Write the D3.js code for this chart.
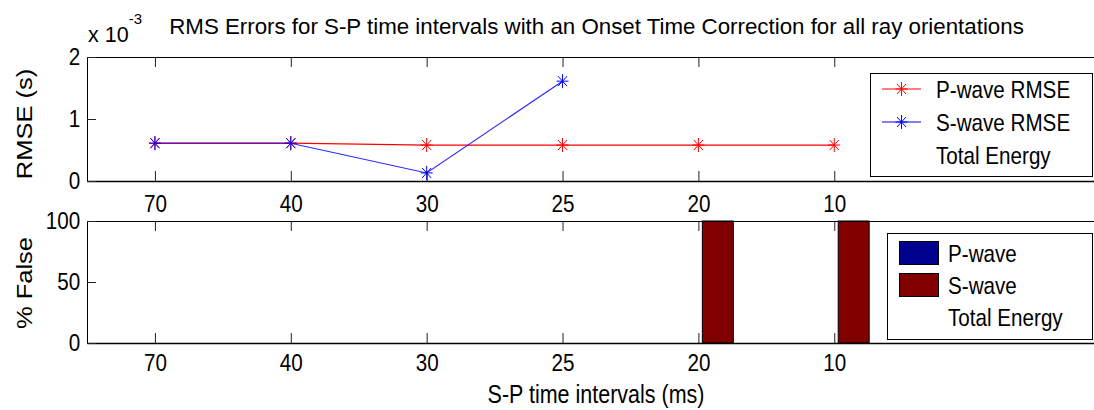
<!DOCTYPE html>
<html>
<head>
<meta charset="utf-8">
<script src="https://cdn.jsdelivr.net/npm/d3@7"></script>
<style>
  html, body { margin: 0; padding: 0; background: #fff; }
  svg { display: block; }
</style>
</head>
<body>
<div id="chart"></div>
<script>
// S-P time interval categories (ms)
const categories = ["70", "40", "30", "25", "20", "10"];
// RMS errors in seconds (missing S-wave values are not plotted)
const pWaveRmse = [6.1e-4, 6.1e-4, 5.8e-4, 5.8e-4, 5.8e-4, 5.8e-4];
const sWaveRmse = [6.1e-4, 6.1e-4, 1.3e-4, 1.61e-3, null, null];
// Percentage of false picks
const pWaveFalse = [0, 0, 0, 0, 0, 0];
const sWaveFalse = [0, 0, 0, 0, 100, 100];
// Axis ticks
const rmseTicks = [0, 1e-3, 2e-3];
const falseTicks = [0, 50, 100];
const legendTop = ["P-wave RMSE", "S-wave RMSE", "Total Energy"];
const legendBottom = ["P-wave", "S-wave", "Total Energy"];

const W = 1094, H = 410;
const FONT = "'Liberation Sans', Arial, Helvetica, sans-serif";
const FS = 24;      // base font size
const SX = 0.86;    // horizontal condensing of glyphs

const svg = d3.select("#chart").append("svg")
  .attr("width", W).attr("height", H)
  .style("font-family", FONT);

const idx = categories.map((_, i) => i + 1);
const x = d3.scaleLinear().domain([0.5, 8]).range([87, 1106]);
const yTop = d3.scaleLinear().domain([0, 2e-3]).range([181, 57]);
const yBot = d3.scaleLinear().domain([0, 100]).range([343, 221]);

function styleAxis(g) {
  g.selectAll("path.domain").attr("stroke", "#000").attr("stroke-width", 1);
  g.selectAll(".tick line").attr("stroke", "#222");
  g.selectAll(".tick text")
    .attr("fill", "#000")
    .style("font-family", FONT)
    .style("font-size", FS + "px")
    .attr("transform", `scale(${SX},1)`);
}

function text(x0, y0, str, anchor, size, rot, sx) {
  const s = sx == null ? SX : sx;
  const g = svg.append("g")
    .attr("transform", rot
      ? `translate(${x0},${y0}) rotate(-90) scale(1,${s})`
      : `translate(${x0},${y0}) scale(${s},1)`);
  return g.append("text")
    .attr("text-anchor", anchor)
    .style("font-size", (size || FS) + "px")
    .attr("fill", "#000")
    .text(str);
}

function asterisk(g, cx, cy, color) {
  const p = d3.path();
  p.moveTo(cx, cy - 7); p.lineTo(cx, cy + 7);
  p.moveTo(cx - 6, cy); p.lineTo(cx + 6, cy);
  p.moveTo(cx - 4.5, cy - 5); p.lineTo(cx + 4.5, cy + 5);
  p.moveTo(cx - 4.5, cy + 5); p.lineTo(cx + 4.5, cy - 5);
  g.append("path").attr("d", p.toString())
    .attr("stroke", color).attr("stroke-width", 1).attr("fill", "none");
}

function panelAxes(yScale, ticks, fmt, labelPad) {
  const [y0, y1] = yScale.range();
  const bottom = svg.append("g").attr("transform", `translate(0,${y0})`)
    .call(d3.axisBottom(x).tickValues(idx).tickFormat(d => categories[d - 1])
      .tickSizeInner(-10).tickSizeOuter(0).tickPadding(labelPad));
  styleAxis(bottom);
  bottom.select("path.domain").attr("stroke-width", 1.4);
  const top = svg.append("g").attr("transform", `translate(0,${y1})`)
    .call(d3.axisTop(x).tickValues(idx).tickFormat("")
      .tickSizeInner(-10).tickSizeOuter(0));
  styleAxis(top);
  const left = svg.append("g").attr("transform", `translate(${x.range()[0]},0)`)
    .call(d3.axisLeft(yScale).tickValues(ticks).tickFormat(fmt)
      .tickSizeInner(-9).tickSizeOuter(0).tickPadding(8));
  styleAxis(left);
  svg.append("line").attr("x1", x.range()[1] + 0.5).attr("x2", x.range()[1] + 0.5)
    .attr("y1", y1).attr("y2", y0).attr("stroke", "#000");
}

// ---------- upper panel: RMSE ----------
const lineGen = d3.line()
  .defined(d => d.v != null)
  .x(d => x(d.i)).y(d => yTop(d.v));
const pData = pWaveRmse.map((v, k) => ({ i: k + 1, v }));
const sData = sWaveRmse.map((v, k) => ({ i: k + 1, v }));
const gLines = svg.append("g");
gLines.append("path").datum(pData).attr("d", lineGen)
  .attr("fill", "none").attr("stroke", "#ff0000").attr("stroke-width", 1.3);
gLines.append("path").datum(sData).attr("d", lineGen)
  .attr("fill", "none").attr("stroke", "#0000ff").attr("stroke-width", 1.1)
  .attr("stroke-opacity", 0.85);
pData.forEach(d => asterisk(gLines, x(d.i), yTop(d.v), "#ff0000"));
sData.filter(d => d.v != null).forEach(d => asterisk(gLines, x(d.i), yTop(d.v), "#0000ff"));
panelAxes(yTop, rmseTicks, d => d3.format("d")(Math.round(d * 1e3)), 14);

// legend (upper)
svg.append("rect").attr("x", 870.5).attr("y", 73.5).attr("width", 222).attr("height", 103)
  .attr("fill", "#fff").attr("stroke", "#000");
const topColors = ["#ff0000", "#0000ff", null];
legendTop.forEach((name, k) => {
  const cy = 89 + k * 33;
  if (topColors[k]) {
    svg.append("line").attr("x1", 882).attr("x2", 921).attr("y1", cy).attr("y2", cy)
      .attr("stroke", topColors[k]).attr("stroke-width", 1.1);
    asterisk(svg, 901.5, cy, topColors[k]);
  }
  text(936, cy + 8.5, name, "start");
});

// ---------- lower panel: % False ----------
const gBars = svg.append("g");
const halfW = 0.114, off = 0.143;
[[pWaveFalse, -off, "#00008f"], [sWaveFalse, off, "#800000"]].forEach(([vals, o, col]) => {
  gBars.selectAll(null).data(vals).enter().append("rect")
    .attr("x", (v, k) => x(k + 1 + o - halfW))
    .attr("width", (v, k) => x(k + 1 + o + halfW) - x(k + 1 + o - halfW))
    .attr("y", v => yBot(v))
    .attr("height", v => yBot(0) - yBot(v))
    .attr("fill", col).attr("stroke", "#000").attr("stroke-width", 1);
});
panelAxes(yBot, falseTicks, d3.format("d"), 11);

// legend (lower)
svg.append("rect").attr("x", 887.5).attr("y", 233.5).attr("width", 205).attr("height", 106)
  .attr("fill", "#fff").attr("stroke", "#000");
const botColors = ["#00008f", "#800000", null];
legendBottom.forEach((name, k) => {
  const cy = 253 + k * 32;
  if (botColors[k]) {
    svg.append("rect").attr("x", 899.5).attr("y", cy - 11.5).attr("width", 39).attr("height", 23)
      .attr("fill", botColors[k]).attr("stroke", "#000");
  }
  text(948, cy + 8.5, name, "start");
});

// ---------- titles and labels ----------
text((x.range()[0] + x.range()[1]) / 2, 34,
  "RMS Errors for S-P time intervals with an Onset Time Correction for all ray orientations",
  "middle", 22.3, false, 1);
const mult = text(88, 42, "x 10", "start", 21.5, false, 1);
mult.append("tspan").attr("dy", -18).style("font-size", "15px").text("-3");
text(32, 124, "RMSE (s)", "middle", 25.5, true);
text(32, 283, "%  False", "middle", 25.5, true);
text(596, 403, "S-P time intervals (ms)", "middle", 25);
</script>
</body>
</html>
